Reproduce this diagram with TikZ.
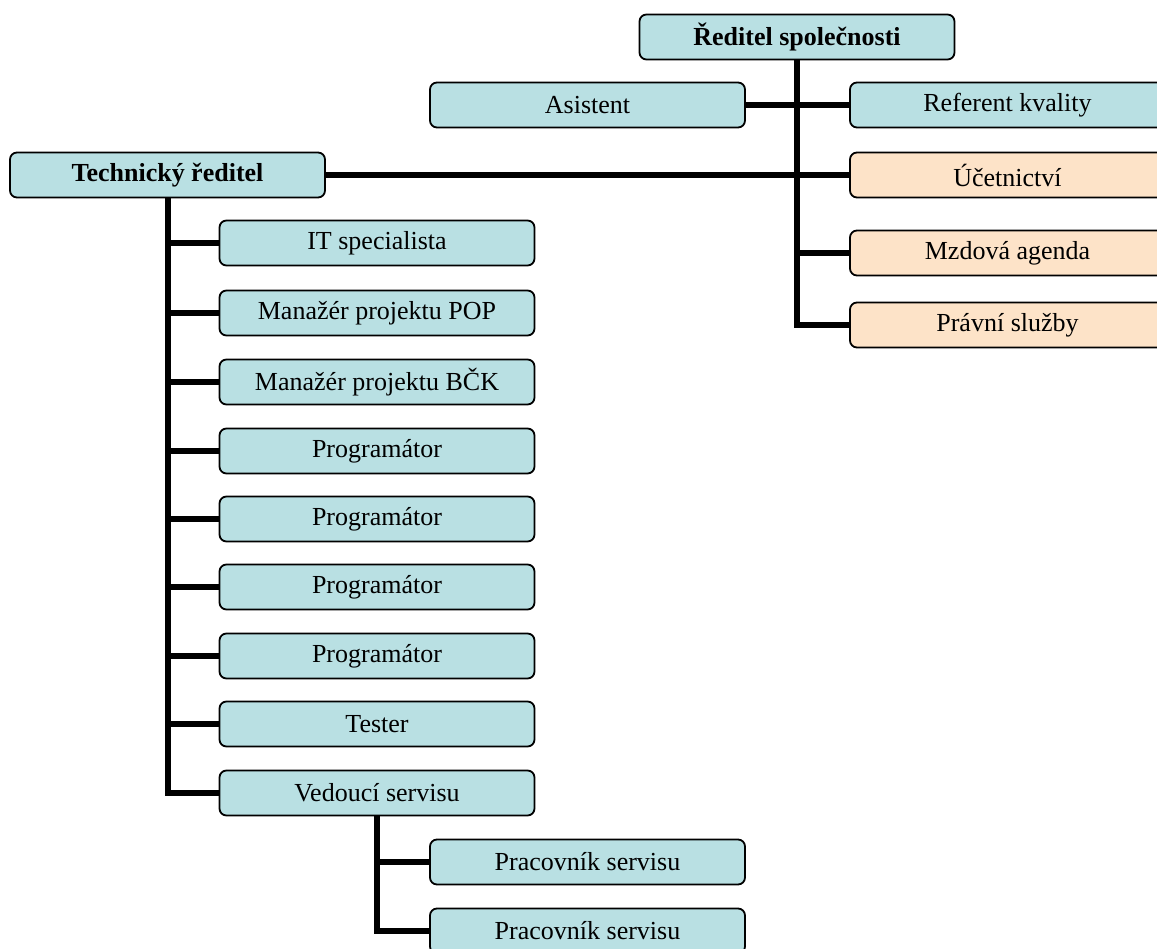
\documentclass[tikz,border=0pt]{standalone}
\usepackage{fontspec}
\setmainfont{Liberation Serif}
\definecolor{boxblue}{RGB}{185,224,227}
\definecolor{boxpeach}{RGB}{253,227,200}
\tikzset{
  orgbox/.style={draw=black, line width=1.8pt, rounded corners=7pt, fill=boxblue,
    minimum width=315pt, minimum height=45pt, inner sep=0pt,
    font=\fontsize{26}{30}\selectfont},
  peachbox/.style={orgbox, fill=boxpeach},
  headbox/.style={orgbox, font=\fontsize{26}{30}\selectfont\bfseries},
  link/.style={line width=6pt, black}
}
\begin{document}
\begin{tikzpicture}[x=1pt,y=-1pt]
\useasboundingbox (0,0) rectangle (1157,949);
\clip (0,0) rectangle (1157,949);

% top management
\node[headbox] (boss) at (797,37) {Ředitel společnosti};
\node[orgbox] (asist) at (587.5,105) {Asistent};
\node[orgbox] (ref) at (1007.5,105) {Referent kvality};
\node[headbox] (tech) at (167.5,175) {Technický ředitel};
\node[peachbox] (ucet) at (1007.5,175) {Účetnictví};
\node[peachbox] (mzd) at (1007.5,253) {Mzdová agenda};
\node[peachbox] (prav) at (1007.5,325) {Právní služby};

% technical department
\node[orgbox] (it) at (377,243) {IT specialista};
\node[orgbox] (pop) at (377,313) {Manažér projektu POP};
\node[orgbox] (bck) at (377,382) {Manažér projektu BČK};
\node[orgbox] (prog1) at (377,451) {Programátor};
\node[orgbox] (prog2) at (377,519) {Programátor};
\node[orgbox] (prog3) at (377,587) {Programátor};
\node[orgbox] (prog4) at (377,656) {Programátor};
\node[orgbox] (tester) at (377,724) {Tester};
\node[orgbox] (ved) at (377,793) {Vedoucí servisu};

% service staff
\node[orgbox] (prac1) at (587.5,862) {Pracovník servisu};
\node[orgbox] (prac2) at (587.5,931) {Pracovník servisu};

% connectors of the director
\draw[link] (boss.south) |- (prav.west);
\draw[link] (asist.east) -- (ref.west);
\draw[link] (tech.east) -- (ucet.west);
\draw[link] (boss.south |- mzd.west) -- (mzd.west);

% connectors of the technical director
\draw[link] (tech.south) |- (ved.west);
\foreach \n in {it,pop,bck,prog1,prog2,prog3,prog4,tester}
  \draw[link] (tech.south |- \n.west) -- (\n.west);

% connectors of the service head
\draw[link] (ved.south) |- (prac2.west);
\draw[link] (ved.south |- prac1.west) -- (prac1.west);
\end{tikzpicture}
\end{document}
